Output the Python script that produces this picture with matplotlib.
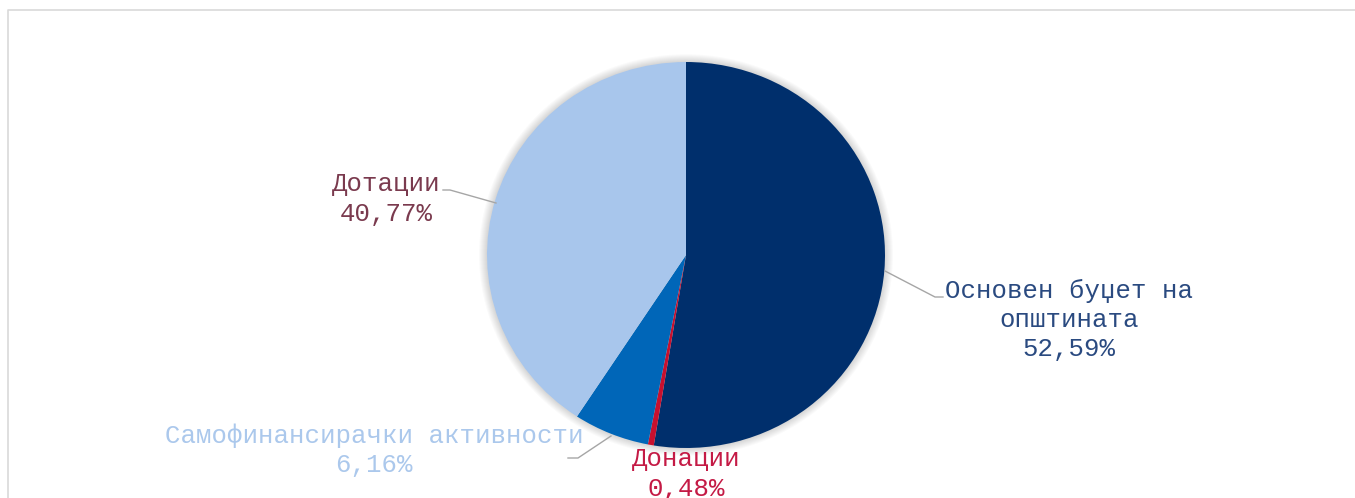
import matplotlib

matplotlib.use("Agg")
import matplotlib.pyplot as plt
from matplotlib.patches import Ellipse

labels = ["Основен буџет на\nопштината", "Донации", "Самофинансирачки активности", "Дотации"]
shares = [52.59, 0.48, 6.16, 40.77]
slice_colors = ["#002f6c", "#c8102e", "#0066b8", "#a8c6ec"]
text_colors = ["#2a4a80", "#c41a45", "#abc8ec", "#7a3a4e"]

W, H = 1355, 498
CX, CY = 686, 255
RX, RY = 199, 193
S = RY / RX  # the reference pie is drawn slightly wider than tall

fig = plt.figure(figsize=(W / 100, H / 100), dpi=100)
ax = fig.add_axes([0, 0, 1, 1])


def py(y):
    # pixel row (from top) -> data y
    return (H - y) / S


ax.pie(shares, colors=slice_colors, startangle=90, counterclock=False,
       center=(CX, py(CY)), radius=RX, frame=True,
       wedgeprops=dict(linewidth=0, zorder=2))
ax.set_xlim(0, W)
ax.set_ylim(0, H / S)
ax.set_aspect("auto")
ax.axis("off")

# chart frame (top and left edge only visible)
ax.plot([8, 8, W], [0, py(10.5), py(10.5)], color="#d9d9d9", lw=1.2, solid_capstyle="butt")

# soft glow behind the pie
for i in range(8):
    ax.add_patch(Ellipse((CX, py(CY)), 2 * (RX + 1 + i), 2 * (RX + 1 + i),
                         color="#000000", alpha=0.018, lw=0, zorder=1))

fmt = lambda v: f"{v:.2f}".replace(".", ",") + "%"
# label centres (px, from top) and leader lines
label_pos = [(1069, 320), (686, 474), (374, 450), (386, 199)]
leaders = [
    [(885, 271), (935, 297), (943, 297)],
    None,
    [(611, 436), (578, 458), (568, 458)],
    [(496, 203), (450, 190), (443, 190)],
]
for lab, v, col, (x, y), ld in zip(labels, shares, text_colors, label_pos, leaders):
    ax.text(x, py(y), f"{lab}\n{fmt(v)}", ha="center", va="center", color=col,
            fontsize=18.5, family="Liberation Mono", linespacing=1.27, zorder=5)
    if ld:
        ax.plot([p[0] for p in ld], [py(p[1]) for p in ld], color="#a6a6a6", lw=1, zorder=4)

fig.savefig("out.png", dpi=100)
